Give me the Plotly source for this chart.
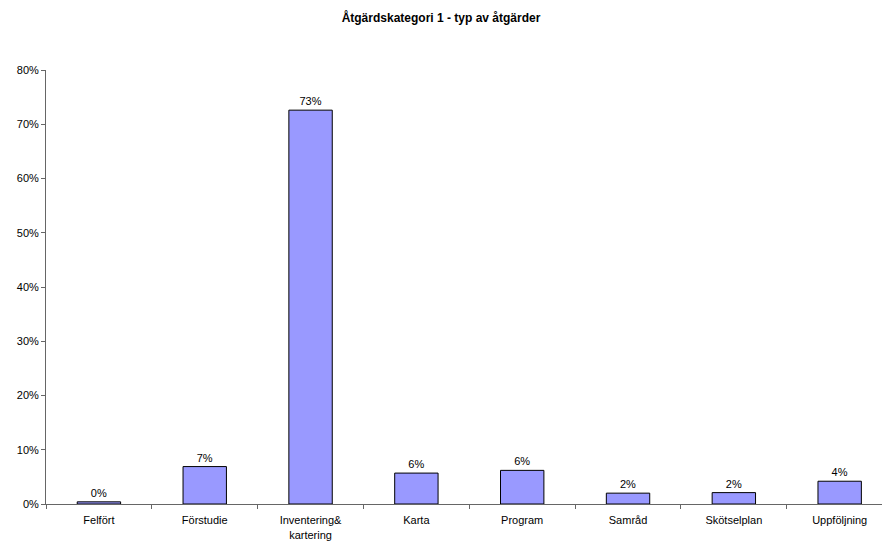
import plotly.graph_objects as go

categories = ["Felfört", "Förstudie", "Inventering&<br>kartering", "Karta", "Program", "Samråd", "Skötselplan", "Uppföljning"]
values = [0.004, 0.069, 0.726, 0.057, 0.062, 0.020, 0.021, 0.042]
y_ticks = [0, 0.1, 0.2, 0.3, 0.4, 0.5, 0.6, 0.7, 0.8]
y_tick_labels = ["0%", "10%", "20%", "30%", "40%", "50%", "60%", "70%", "80%"]
title_text = "Åtgärdskategori 1 - typ av åtgärder"

fig = go.Figure(go.Bar(
    x=categories, y=values,
    width=0.41,
    marker=dict(color="#9999FF", line=dict(color="#000000", width=1)),
    texttemplate="%{y:.0%}", textposition="outside",
    textfont=dict(family="Liberation Sans, Arial", size=11, color="#000"),
    cliponaxis=False,
))

fig.update_layout(
    width=882, height=544,
    margin=dict(l=46, r=0, t=70, b=40, autoexpand=False),
    paper_bgcolor="white", plot_bgcolor="white",
    font=dict(family="Liberation Sans, Arial", size=11, color="#000"),
    title=dict(text="<b>" + title_text + "</b>", x=0.5, xanchor="center", y=0.967, yanchor="middle",
               font=dict(size=12, family="Liberation Sans, Arial", color="#000")),
    showlegend=False,
)
fig.update_xaxes(
    range=[-0.5, 7.4], showline=True, linecolor="#666", linewidth=1,
    ticks="outside", tickson="boundaries", ticklen=4, tickcolor="#666",
    showgrid=False, tickfont=dict(size=11, color="#000"), tickangle=0,
    automargin=False, ticklabelstandoff=6,
)
fig.update_yaxes(
    range=[0, 0.8], showline=True, linecolor="#666", linewidth=1,
    tickvals=y_ticks, ticktext=y_tick_labels,
    ticks="outside", ticklen=4, tickcolor="#666",
    showgrid=False, zeroline=False, tickfont=dict(size=11, color="#000"),
    automargin=False,
)

fig.write_html("out.html", config={"displayModeBar": False},
               post_script="document.body.style.margin='0';")
